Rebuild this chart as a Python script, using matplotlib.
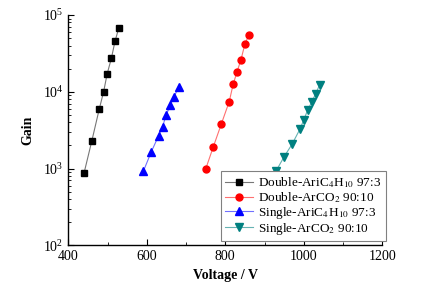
import matplotlib
matplotlib.use("Agg")
import matplotlib.pyplot as plt
from matplotlib.ticker import MultipleLocator, LogLocator, NullFormatter

plt.rcParams['font.family'] = ['Liberation Serif', 'DejaVu Serif']
plt.rcParams['mathtext.fontset'] = 'stix'

# Data
v_double_ic4h10 = [440, 460, 479, 490, 499, 510, 519, 529]
g_double_ic4h10 = [868, 2300, 5990, 10000, 17100, 27600, 45500, 68600]

v_double_co2 = [750, 769, 790, 810, 820, 830, 840, 850, 860]
g_double_co2 = [985, 1890, 3820, 7450, 12500, 18300, 26200, 42000, 54500]

v_single_ic4h10 = [591, 611, 630, 640, 650, 660, 669, 681]
g_single_ic4h10 = [915, 1630, 2670, 3520, 5050, 6740, 8480, 11500]

v_single_co2 = [930, 950, 970, 990, 1000, 1010, 1020, 1030, 1040]
g_single_co2 = [942, 1430, 2070, 3250, 4310, 5810, 7300, 9400, 12200]

labels = ["Double-AriC$_4$H$_{10}$ 97:3", "Double-ArCO$_2$ 90:10",
          "Single-AriC$_4$H$_{10}$ 97:3", "Single-ArCO$_2$ 90:10"]

fig = plt.figure(figsize=(4.36, 2.95), dpi=100)
ax = fig.add_axes([68.3/436, 1-245.3/295, (382.3-68.3)/436, (245.3-15)/295])

ms = 4.5
ax.plot(v_double_ic4h10, g_double_ic4h10, color='#777777', lw=0.8, marker='s', ms=ms,
        mfc='black', mec='black', label=labels[0])
ax.plot(v_double_co2, g_double_co2, color='#ff7070', lw=0.8, marker='o', ms=ms+0.5,
        mfc='red', mec='red', label=labels[1])
ax.plot(v_single_ic4h10, g_single_ic4h10, color='#7070ff', lw=0.8, marker='^', ms=ms+1,
        mfc='blue', mec='blue', label=labels[2])
ax.plot(v_single_co2, g_single_co2, color='#66b3b3', lw=0.8, marker='v', ms=ms+1,
        mfc='#008080', mec='#008080', label=labels[3])

ax.set_yscale('log')
ax.set_xlim(400, 1200)
ax.set_ylim(1e2, 1e5)
ax.xaxis.set_major_locator(MultipleLocator(200))
ax.xaxis.set_minor_locator(MultipleLocator(100))
ax.yaxis.set_major_locator(LogLocator(base=10))
ax.yaxis.set_minor_locator(LogLocator(base=10, subs=range(2, 10)))
ax.yaxis.set_minor_formatter(NullFormatter())

ax.spines['top'].set_visible(False)
ax.spines['right'].set_visible(False)
ax.spines['left'].set_linewidth(1.0)
ax.spines['bottom'].set_linewidth(1.0)
ax.tick_params(which='both', direction='in', labelsize=10)
ax.tick_params(which='major', length=4)
ax.tick_params(which='minor', length=2)

ax.set_xlabel('Voltage / V', fontsize=10, fontweight='bold')
ax.set_ylabel('Gain', fontsize=10, fontweight='bold', labelpad=6)

leg = ax.legend(loc='lower right', bbox_to_anchor=(385.7/436, 1-241/295),
                bbox_transform=fig.transFigure, borderaxespad=0, fontsize=9.5,
                fancybox=False, edgecolor='#808080', framealpha=1,
                labelspacing=0.0, handlelength=2.1, handletextpad=0.4,
                borderpad=0.3)
leg.get_frame().set_linewidth(0.8)

fig.savefig('out.png', dpi=100)
